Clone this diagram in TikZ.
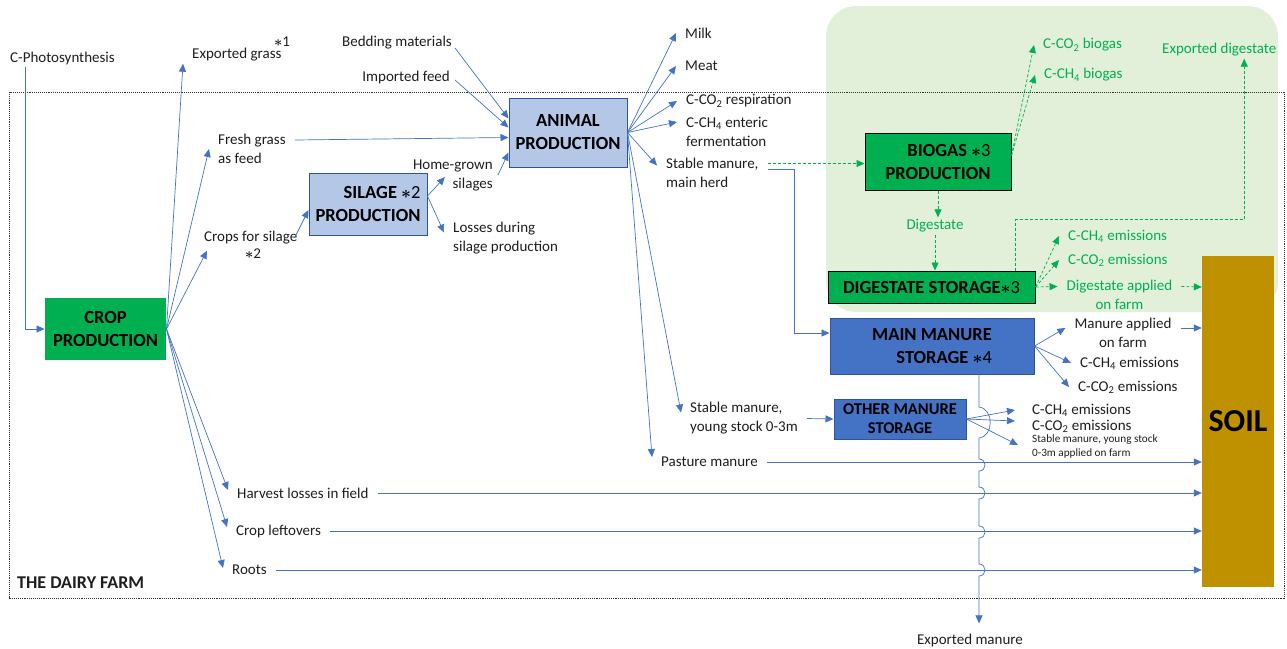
\documentclass[tikz,border=0pt]{standalone}
\usepackage{fontspec}
\setmainfont{Carlito}
\usepackage{tikz}
\usetikzlibrary{arrows.meta}
\definecolor{flowblue}{HTML}{4472C4}
\definecolor{boxblue}{HTML}{B4C7E7}
\definecolor{edgeblue}{HTML}{2F5597}
\definecolor{biogreen}{HTML}{00B050}
\definecolor{palegreen}{HTML}{E2F0D9}
\definecolor{soilbrown}{HTML}{BF9000}
\definecolor{inktext}{HTML}{1E1E1E}
\newcommand{\starnote}[1]{{\boldmath$\ast$}#1}
\newcommand{\cotwo}{C-CO\textsubscript{2}}
\newcommand{\chfour}{C-CH\textsubscript{4}}
\tikzset{
    common/.style={draw, rectangle, align=center, inner sep=2pt, font=\bfseries\fontsize{18.5}{23}\selectfont},
    lightbox/.style={common, fill=boxblue, draw=edgeblue, line width=1pt},
    darkbox/.style={common, fill=flowblue, draw=edgeblue, line width=1pt},
    greenbox/.style={common, fill=biogreen, draw=black, line width=1pt},
    lbl/.style={inner xsep=9pt, inner ysep=2pt, align=left, text=inktext, font=\fontsize{15}{19}\selectfont},
    greenlbl/.style={lbl, text=biogreen},
    smalllbl/.style={lbl, font=\fontsize{11.2}{14}\selectfont},
    flow/.style={-{Triangle[length=8pt,width=7pt]}, flowblue, line width=0.7pt},
    gflow/.style={flow, biogreen, dash pattern=on 3pt off 2pt}
}

\begin{document}
\begin{tikzpicture}[x=1pt, y=-1pt]
    \useasboundingbox (0,0) rectangle (1287,648);

    % biogas area and farm border
    \fill[palegreen, rounded corners=30pt] (826,6) rectangle (1278,312);
    \draw[densely dotted, line width=0.9pt, black!80] (9,92) rectangle (1284,598);

    % boxes
    \node[greenbox, draw=none, minimum width=121pt, minimum height=62pt] (crop) at (105.5,329) {CROP\\PRODUCTION};
    \node[lightbox, align=right, minimum width=118pt, minimum height=62pt] (silage) at (368,204) {SILAGE {\mdseries\starnote{2}}\\PRODUCTION};
    \node[lightbox, minimum width=118pt, minimum height=69pt] (animal) at (568,132.5) {ANIMAL\\PRODUCTION};
    \node[greenbox, align=right, minimum width=146pt, minimum height=57pt] (biogas) at (938,161.5) {BIOGAS {\mdseries\starnote{3}}\\PRODUCTION};
    \node[greenbox, minimum width=207pt, minimum height=32pt] (digstore) at (931.5,287) {DIGESTATE STORAGE{\mdseries\starnote{3}}};
    \node[darkbox, align=right, minimum width=204pt, minimum height=56pt] (mainman) at (932,346) {MAIN MANURE\\STORAGE {\mdseries\starnote{4}}};
    \node[darkbox, minimum width=132pt, minimum height=40pt, font=\bfseries\fontsize{16.5}{19}\selectfont] (otherman) at (900,419) {OTHER MANURE\\STORAGE};
    \node[common, draw=none, fill=soilbrown, minimum width=72pt, minimum height=331pt, font=\bfseries\fontsize{32}{36}\selectfont] (soil) at (1238,421.5) {SOIL};

    % labels
    \node[lbl, anchor=west] (photo) at (1,58) {C-Photosynthesis};
    \node[lbl, anchor=west] (expgrass) at (183,55) {Exported grass};
    \node[lbl] (note1) at (282,42) {\starnote{1}};
    \node[lbl, anchor=west] (fresh) at (209,149) {Fresh grass\\as feed};
    \node[lbl, anchor=west] (silcrops) at (195,238) {Crops for silage};
    \node[lbl] (note2) at (253,254) {\starnote{2}};
    \node[lbl, anchor=east] (bedding) at (461,43) {Bedding materials};
    \node[lbl, anchor=east] (impfeed) at (459,77) {Imported feed};
    \node[lbl, anchor=east, align=right] (homegrown) at (502,175) {Home-grown\\silages};
    \node[lbl, anchor=west] (losses) at (444,238.5) {Losses during\\silage production};
    \node[lbl, anchor=west] (milk) at (676,33) {Milk};
    \node[lbl, anchor=west] (meat) at (676,66) {Meat};
    \node[lbl, anchor=west] (co2resp) at (677,101) {\cotwo{} respiration};
    \node[lbl, anchor=west] (ch4ent) at (677,132) {\chfour{} enteric\\fermentation};
    \node[lbl, anchor=west] (stablemain) at (657,172.5) {Stable manure,\\main herd};
    \node[lbl, anchor=west] (stableyoung) at (681,418.5) {Stable manure,\\young stock 0-3m};
    \node[lbl, anchor=west] (pasture) at (652,462) {Pasture manure};
    \node[lbl, anchor=west] (harvest) at (228,493) {Harvest losses in field};
    \node[lbl, anchor=west] (leftovers) at (227,531) {Crop leftovers};
    \node[lbl, anchor=west] (roots) at (223,570) {Roots};
    \node[lbl, anchor=west, font=\bfseries\fontsize{18}{22}\selectfont] (farm) at (8,583) {THE DAIRY FARM};

    % biogas side
    \node[greenlbl, anchor=west] (co2bio) at (1034,45) {\cotwo{} biogas};
    \node[greenlbl, anchor=west] (ch4bio) at (1035,75) {\chfour{} biogas};
    \node[greenlbl, anchor=west] (expdig) at (1153,50) {Exported digestate};
    \node[greenlbl] (digestate) at (935,226) {Digestate};
    \node[greenlbl, anchor=west] (dsch4) at (1059,236) {\chfour{} emissions};
    \node[greenlbl, anchor=west] (dsco2) at (1059,260) {\cotwo{} emissions};
    \node[greenlbl, align=center] (digapp) at (1119.5,294.5) {Digestate applied\\on farm};

    % manure side
    \node[lbl, align=center] (manapp) at (1123,333) {Manure applied\\on farm};
    \node[lbl, anchor=west] (mmch4) at (1071,363) {\chfour{} emissions};
    \node[lbl, anchor=west] (mmco2) at (1069,387) {\cotwo{} emissions};
    \node[lbl, anchor=west] (omch4) at (1023,410) {\chfour{} emissions};
    \node[lbl, anchor=west] (omco2) at (1023,426) {\cotwo{} emissions};
    \node[smalllbl, anchor=west] (omapp) at (1023,447) {Stable manure, young stock\\0-3m applied on farm};
    \node[lbl] (expman) at (970,640) {Exported manure};

    % crop production
    \draw[flow] ([xshift=24pt]photo.south west) |- (crop.west);
    \draw[flow] (crop.east) -- (expgrass.south west);
    \draw[flow] (crop.east) -- (fresh.west);
    \draw[flow] (crop.east) -- ([xshift=12pt,yshift=-4pt]silcrops.south west);
    \draw[flow] (crop.east) -- ([yshift=3pt]harvest.west);
    \draw[flow] (crop.east) -- ([yshift=4pt]leftovers.west);
    \draw[flow] (crop.east) -- ([yshift=2pt]roots.west);
    \draw[flow] ([xshift=-12pt]silcrops.east) -- ([yshift=-6pt]silage.west);
    \draw[flow] ([yshift=9pt]fresh.east) -- ([yshift=-5pt]animal.west);

    % silage production
    \draw[flow] ([yshift=8pt]silage.east) -- ([xshift=-8pt,yshift=-2pt]homegrown.center);
    \draw[flow] ([yshift=8pt]silage.east) -- ([yshift=6pt]losses.west);
    \draw[flow] ([xshift=-4pt]homegrown.east) -- ([yshift=-20pt]animal.west);
    \draw[flow] ([xshift=-6pt,yshift=-5pt]bedding.east) -- ([yshift=14pt]animal.west);
    \draw[flow] ([xshift=-4pt,yshift=-3pt]impfeed.east) -- ([yshift=5pt]animal.west);

    % animal production
    \foreach \dst in {milk,meat,co2resp}
        \draw[flow] (animal.east) -- (\dst.west);
    \draw[flow] (animal.east) -- ([yshift=10pt]ch4ent.west);
    \draw[flow] (animal.east) -- ([yshift=7pt]stablemain.west);
    \draw[flow] (animal.east) -- ([yshift=6pt]stableyoung.west);
    \draw[flow] (animal.east) -- ([yshift=5pt]pasture.west);
    \draw[gflow] ([yshift=9pt]stablemain.east) -- ([yshift=-2pt]biogas.west);
    \draw[flow] ([yshift=3pt]stablemain.east) -- ++(27,0) |- ([yshift=13pt]mainman.west);

    % biogas
    \draw[gflow] (biogas.south) -- (biogas.south |- digestate.north);
    \draw[gflow] (digestate.south) -- (digestate.south |- digstore.north);
    \draw[gflow] ([yshift=6pt]biogas.east) -- (co2bio.west);
    \draw[gflow] ([yshift=6pt]biogas.east) -- (ch4bio.west);
    \draw[gflow] ([xshift=-20pt]digstore.north east) -- ++(0,-51) -| ([xshift=25pt]expdig.south);
    \draw[gflow] (digstore.east) -- (dsch4.west);
    \draw[gflow] (digstore.east) -- (dsco2.west);
    \draw[gflow] (digstore.east) -- ([yshift=8pt]digapp.west);
    \draw[gflow] ([yshift=8pt]digapp.east) -- ([yshift=134.5pt]soil.west);

    % manure storages
    \draw[flow] (mainman.east) -- ([yshift=5pt]manapp.west);
    \draw[flow] (mainman.east) -- (mmch4.west);
    \draw[flow] (mainman.east) -- (mmco2.west);
    \draw[flow] ([yshift=5pt]manapp.east) -- ([yshift=93.5pt]soil.west);
    \draw[flow] (stableyoung.east) -- (otherman.west);
    \draw[flow] (otherman.east) -- ([xshift=-8pt]omch4.west);
    \draw[flow] (otherman.east) -- ([xshift=-8pt,yshift=5pt]omco2.west);
    \draw[flow] (otherman.east) -- ([xshift=-5pt,yshift=2pt]omapp.west);

    % into the soil
    \foreach \src in {pasture,harvest,leftovers,roots}
        \draw[flow] (\src.east) -- (\src.east -| soil.west);

    % exported manure, hopping over the other lines
    \draw[flow] ([xshift=47pt]mainman.south) -- (979,407)
        .. controls (994,409) and (994,436) .. (979,438)
        -- (979,459) .. controls (987,459) and (987,471) .. (979,471)
        -- (979,487) .. controls (987,487) and (987,499) .. (979,499)
        -- (979,526) .. controls (987,526) and (987,538) .. (979,538)
        -- (979,564) .. controls (987,564) and (987,576) .. (979,576)
        -- ([xshift=9pt,yshift=8pt]expman.north);

\end{tikzpicture}
\end{document}
